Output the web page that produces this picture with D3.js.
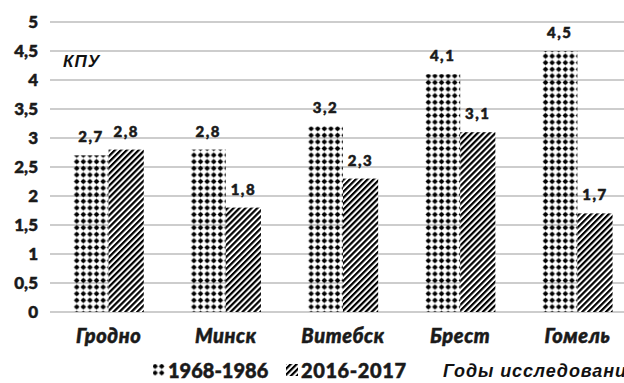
<!DOCTYPE html>
<html>
<head>
<meta charset="utf-8">
<script src="https://cdn.jsdelivr.net/npm/d3@7"></script>
<style>
  html, body { margin: 0; padding: 0; background: #fff; }
  svg { display: block; }
</style>
</head>
<body>
<script>
// КПУ по городам, два периода исследований
const cities = ["Гродно", "Минск", "Витебск", "Брест", "Гомель"];
const period1 = [2.7, 2.8, 3.2, 4.1, 4.5];   // 1968-1986
const period2 = [2.8, 1.8, 2.3, 3.1, 1.7];   // 2016-2017
const seriesNames = ["1968-1986", "2016-2017"];
const yTicks = [0, 0.5, 1, 1.5, 2, 2.5, 3, 3.5, 4, 4.5, 5];

const W = 624, H = 383;
const svg = d3.select("body").append("svg").attr("width", W).attr("height", H);

const fmt = v => String(v).replace(".", ",");
const numFont = "Lato, 'Open Sans', sans-serif";
const ink = "#1a1a1a";

// Heavy text: Lato black weight with a thin outline for extra weight
function heavy(sel, size) {
  return sel.attr("font-family", numFont).attr("font-weight", 900)
    .attr("font-size", size).attr("fill", ink)
    .attr("stroke", ink).attr("stroke-width", 0.5);
}

// Fill patterns: dot grid and diagonal hatch
const defs = svg.append("defs");
const dots = defs.append("pattern").attr("id", "dots")
  .attr("patternUnits", "userSpaceOnUse").attr("width", 6.6).attr("height", 6.6);
dots.append("circle").attr("cx", 3.3).attr("cy", 3.3).attr("r", 2.2).attr("fill", "#000");
dots.append("rect").attr("x", 0.6).attr("y", 3.0).attr("width", 5.4).attr("height", 0.6).attr("fill", "#000");
dots.append("rect").attr("x", 3.0).attr("y", 0.6).attr("width", 0.6).attr("height", 5.4).attr("fill", "#000");

const hatch = defs.append("pattern").attr("id", "hatch")
  .attr("patternUnits", "userSpaceOnUse").attr("width", 4.2).attr("height", 4.2)
  .attr("patternTransform", "rotate(45)");
hatch.append("rect").attr("width", 4.2).attr("height", 4.2).attr("fill", "#fff");
hatch.append("line").attr("x1", 1.1).attr("y1", 0).attr("x2", 1.1).attr("y2", 4.2)
  .attr("stroke", "#000").attr("stroke-width", 2.2);

const fills = ["url(#dots)", "url(#hatch)"];

const x = d3.scaleBand().domain(cities).range([50, 636]).paddingInner(0.4).paddingOuter(0.2);
const xs = d3.scaleBand().domain([0, 1]).range([0, x.bandwidth()]);
const y = d3.scaleLinear().domain([0, 5]).range([312, 22]);

// Value axis labels
const yAxis = d3.axisLeft(y).tickValues(yTicks).tickFormat(fmt).tickSize(0).tickPadding(0);
const gy = svg.append("g").attr("transform", "translate(38,0)").call(yAxis);
gy.select(".domain").remove();
heavy(gy.selectAll("text"), 17).attr("dy", "0.35em");

// Horizontal gridlines
svg.append("g").selectAll("line").data(yTicks).join("line")
  .attr("x1", 50).attr("x2", W).attr("y1", d => y(d)).attr("y2", d => y(d))
  .attr("stroke", "#bdbdbd").attr("stroke-width", 1.5);

// Bars
const rows = cities.map((c, i) => ({ city: c, vals: [period1[i], period2[i]] }));
const groups = svg.append("g").selectAll("g").data(rows).join("g")
  .attr("transform", d => `translate(${x(d.city)},0)`);

groups.selectAll("rect").data(d => d.vals.map((v, k) => ({ v, k }))).join("rect")
  .attr("x", d => xs(d.k)).attr("width", xs.bandwidth())
  .attr("y", d => y(d.v)).attr("height", d => y(0) - y(d.v))
  .attr("fill", d => fills[d.k]);

heavy(groups.selectAll("text.val").data(d => d.vals.map((v, k) => ({ v, k }))).join("text")
  .attr("class", "val")
  .attr("x", d => xs(d.k) + xs.bandwidth() / 2).attr("y", d => y(d.v) - 13)
  .attr("text-anchor", "middle")
  .attr("letter-spacing", 1.5)
  .text(d => fmt(d.v)), 15);

// Category axis
const xAxis = d3.axisBottom(x).tickSize(0).tickPadding(0);
const gx = svg.append("g").attr("transform", "translate(0,336)").call(xAxis);
gx.select(".domain").remove();
heavy(gx.selectAll("text"), 20).attr("font-style", "italic").attr("letter-spacing", 0.6)
  .attr("dy", "0.35em");

// Axis titles
const titleFont = "'Liberation Sans', Arial, sans-serif";
svg.append("text").attr("x", 63).attr("y", 67)
  .attr("font-family", titleFont)
  .attr("font-weight", "bold").attr("font-style", "italic").attr("font-size", 17)
  .attr("letter-spacing", 1)
  .attr("fill", "#111").text("КПУ");

svg.append("text").attr("x", 443).attr("y", 377)
  .attr("font-family", titleFont)
  .attr("font-weight", "bold").attr("font-style", "italic").attr("font-size", 18)
  .attr("letter-spacing", 0.9)
  .attr("fill", "#111").text("Годы исследований");

// Legend
const legend = svg.append("g");
const legX = [153, 286];
seriesNames.forEach((name, k) => {
  legend.append("rect").attr("x", legX[k]).attr("y", 364).attr("width", 12).attr("height", 12)
    .attr("fill", fills[k]);
  heavy(legend.append("text").attr("x", legX[k] + 15).attr("y", 378), 20)
    .attr("letter-spacing", k === 1 ? 0.6 : 0).text(name);
});
</script>
</body>
</html>
